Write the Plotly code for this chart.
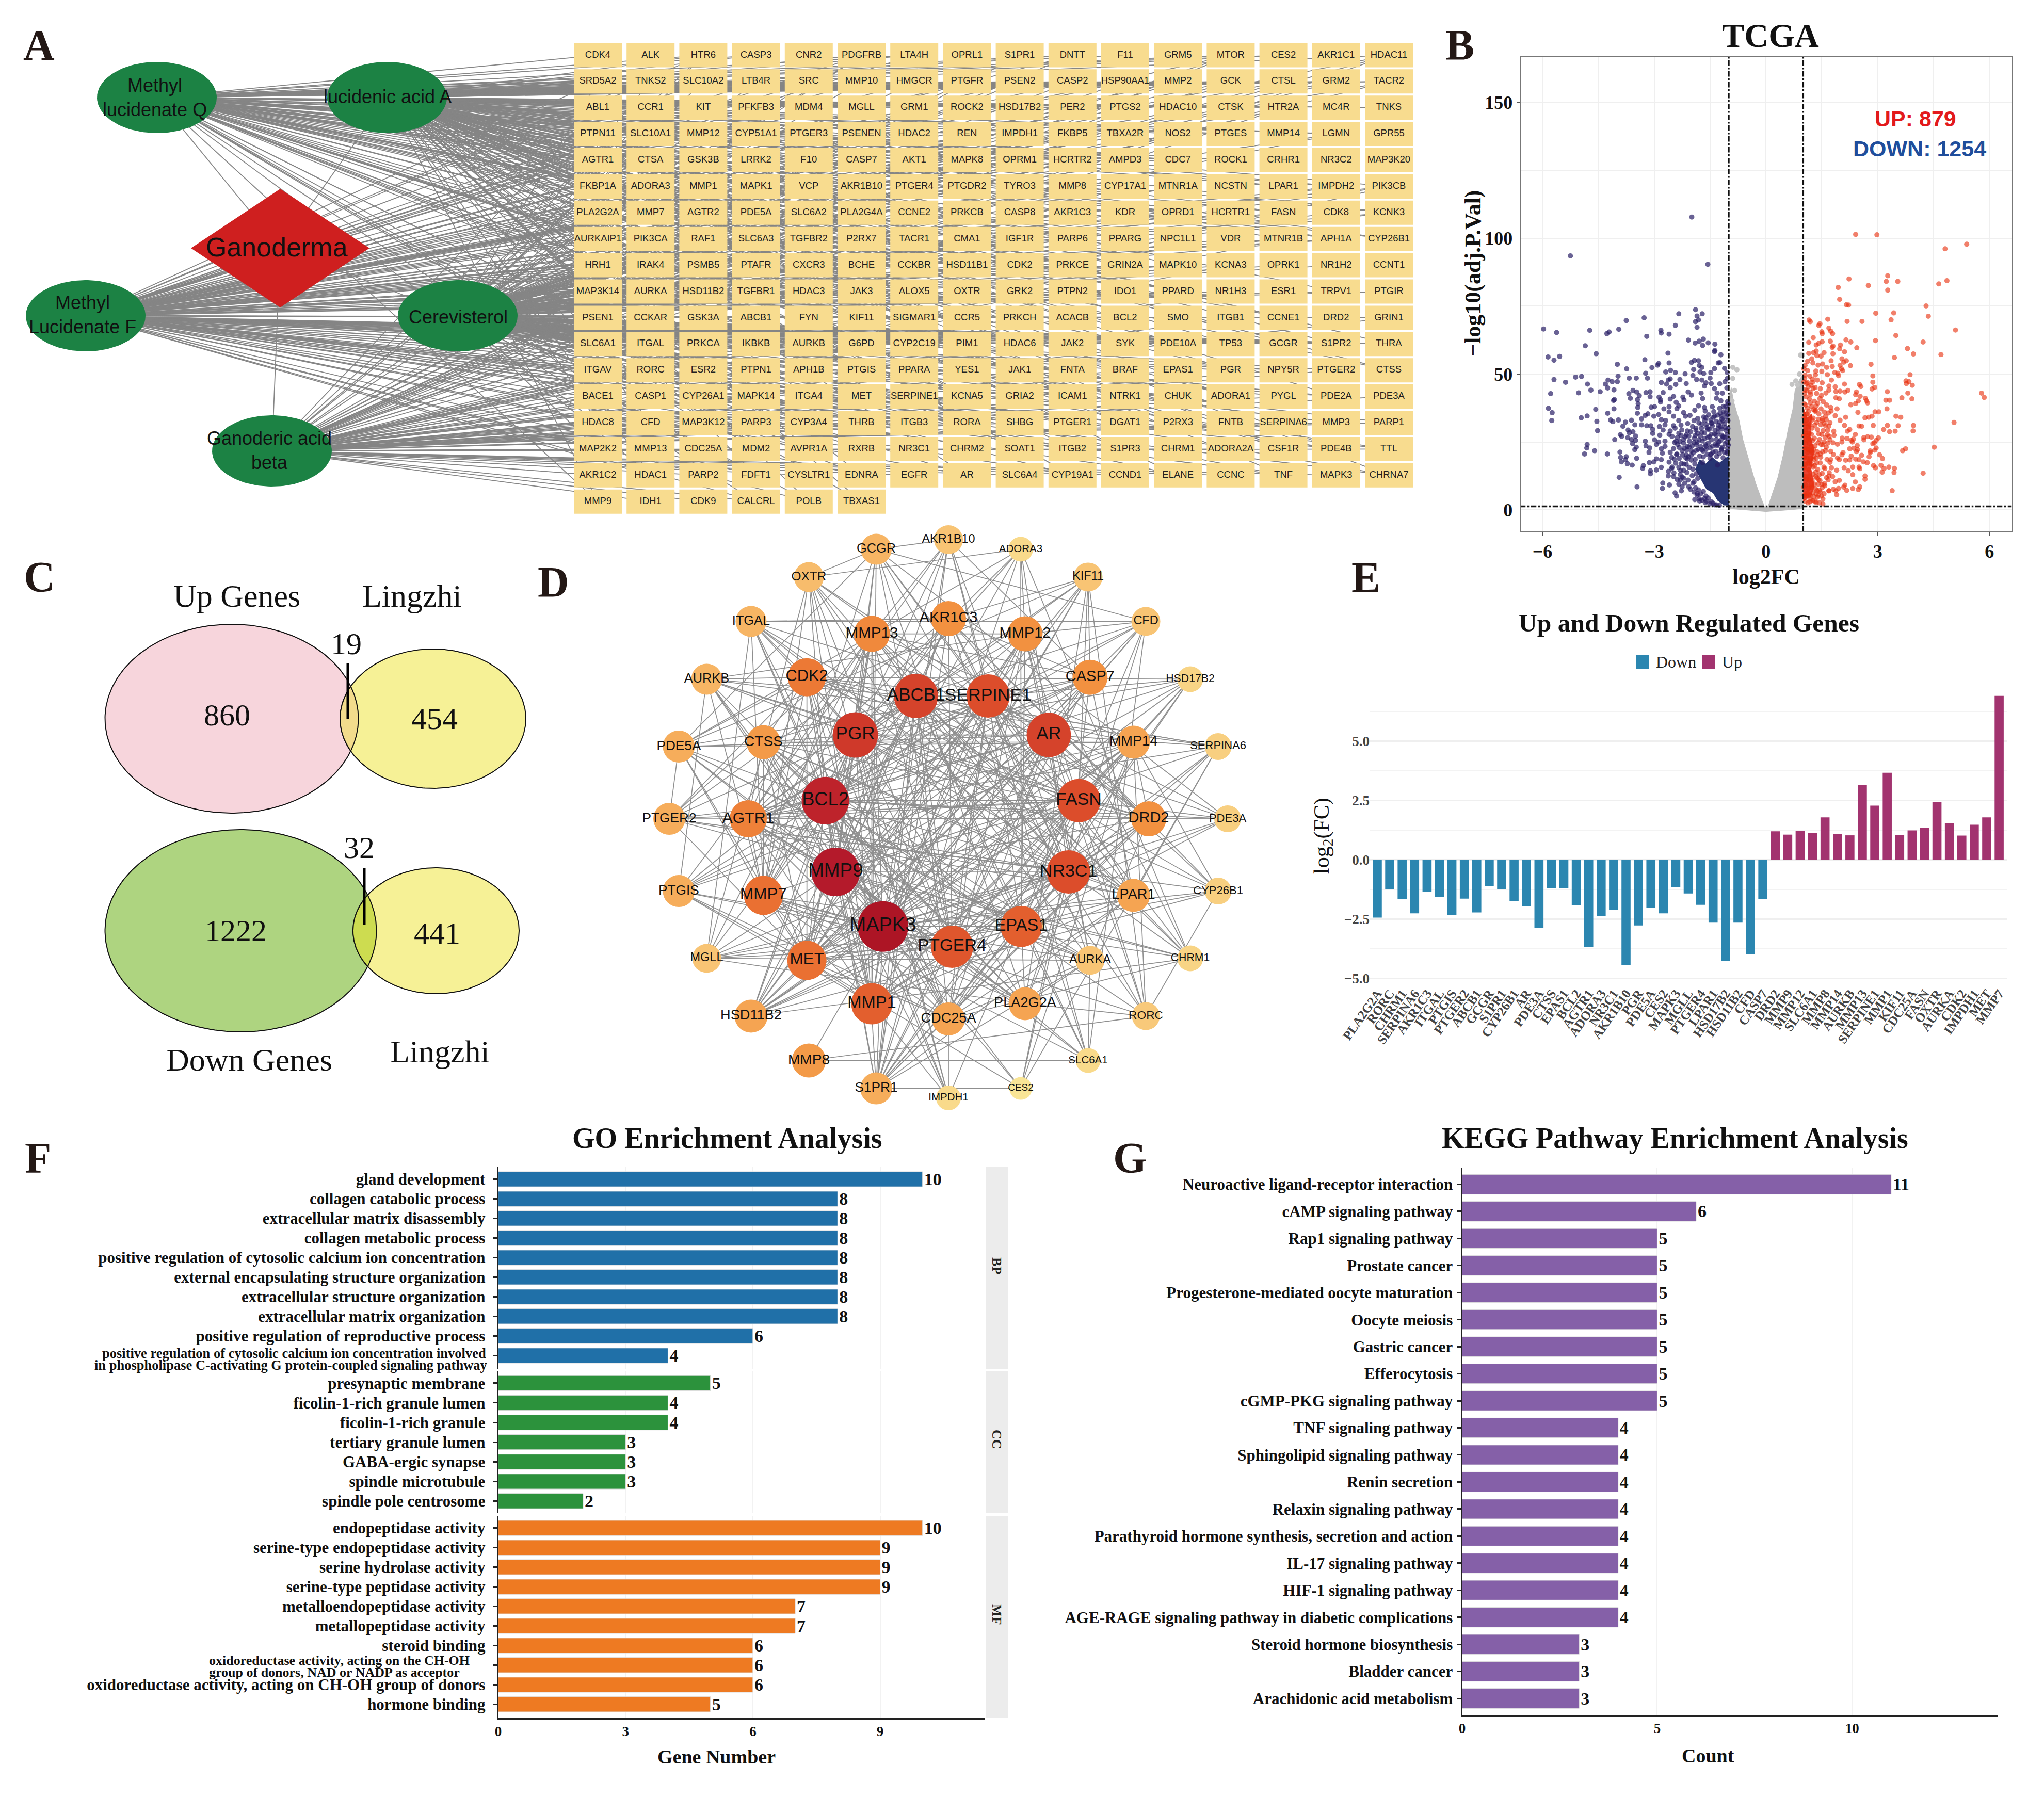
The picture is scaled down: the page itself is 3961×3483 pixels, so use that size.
import numpy as np
import plotly.graph_objects as go

W, H = 3961, 3483
SERIF = "Liberation Serif"
SANS = "Liberation Sans"

# ---------- Panel A: compound-target network ----------
gene_rows = [
 "CDK4 ALK HTR6 CASP3 CNR2 PDGFRB LTA4H OPRL1 S1PR1 DNTT F11 GRM5 MTOR CES2 AKR1C1 HDAC11",
 "SRD5A2 TNKS2 SLC10A2 LTB4R SRC MMP10 HMGCR PTGFR PSEN2 CASP2 HSP90AA1 MMP2 GCK CTSL GRM2 TACR2",
 "ABL1 CCR1 KIT PFKFB3 MDM4 MGLL GRM1 ROCK2 HSD17B2 PER2 PTGS2 HDAC10 CTSK HTR2A MC4R TNKS",
 "PTPN11 SLC10A1 MMP12 CYP51A1 PTGER3 PSENEN HDAC2 REN IMPDH1 FKBP5 TBXA2R NOS2 PTGES MMP14 LGMN GPR55",
 "AGTR1 CTSA GSK3B LRRK2 F10 CASP7 AKT1 MAPK8 OPRM1 HCRTR2 AMPD3 CDC7 ROCK1 CRHR1 NR3C2 MAP3K20",
 "FKBP1A ADORA3 MMP1 MAPK1 VCP AKR1B10 PTGER4 PTGDR2 TYRO3 MMP8 CYP17A1 MTNR1A NCSTN LPAR1 IMPDH2 PIK3CB",
 "PLA2G2A MMP7 AGTR2 PDE5A SLC6A2 PLA2G4A CCNE2 PRKCB CASP8 AKR1C3 KDR OPRD1 HCRTR1 FASN CDK8 KCNK3",
 "AURKAIP1 PIK3CA RAF1 SLC6A3 TGFBR2 P2RX7 TACR1 CMA1 IGF1R PARP6 PPARG NPC1L1 VDR MTNR1B APH1A CYP26B1",
 "HRH1 IRAK4 PSMB5 PTAFR CXCR3 BCHE CCKBR HSD11B1 CDK2 PRKCE GRIN2A MAPK10 KCNA3 OPRK1 NR1H2 CCNT1",
 "MAP3K14 AURKA HSD11B2 TGFBR1 HDAC3 JAK3 ALOX5 OXTR GRK2 PTPN2 IDO1 PPARD NR1H3 ESR1 TRPV1 PTGIR",
 "PSEN1 CCKAR GSK3A ABCB1 FYN KIF11 SIGMAR1 CCR5 PRKCH ACACB BCL2 SMO ITGB1 CCNE1 DRD2 GRIN1",
 "SLC6A1 ITGAL PRKCA IKBKB AURKB G6PD CYP2C19 PIM1 HDAC6 JAK2 SYK PDE10A TP53 GCGR S1PR2 THRA",
 "ITGAV RORC ESR2 PTPN1 APH1B PTGIS PPARA YES1 JAK1 FNTA BRAF EPAS1 PGR NPY5R PTGER2 CTSS",
 "BACE1 CASP1 CYP26A1 MAPK14 ITGA4 MET SERPINE1 KCNA5 GRIA2 ICAM1 NTRK1 CHUK ADORA1 PYGL PDE2A PDE3A",
 "HDAC8 CFD MAP3K12 PARP3 CYP3A4 THRB ITGB3 RORA SHBG PTGER1 DGAT1 P2RX3 FNTB SERPINA6 MMP3 PARP1",
 "MAP2K2 MMP13 CDC25A MDM2 AVPR1A RXRB NR3C1 CHRM2 SOAT1 ITGB2 S1PR3 CHRM1 ADORA2A CSF1R PDE4B TTL",
 "AKR1C2 HDAC1 PARP2 FDFT1 CYSLTR1 EDNRA EGFR AR SLC6A4 CYP19A1 CCND1 ELANE CCNC TNF MAPK3 CHRNA7",
 "MMP9 IDH1 CDK9 CALCRL POLB TBXAS1",
]
compounds = ["Methyl<br>lucidenate Q", "lucidenic acid A", "Methyl<br>Lucidenate F", "Cerevisterol", "Ganoderic acid<br>beta"]
herb = "Ganoderma"

# ---------- Panel B: volcano ----------
down_points = [
(-5.97,66.6),(-5.62,65.3),(-4.73,66.1),(-4.27,64.9),(-4.21,65.5),(-3.95,66.5),(-3.75,69.7),(-3.27,70.7),(-2.34,72.2),(-1.89,73.7),
(-1.71,72.2),(-1.85,71.4),(-1.81,69.9),(-1.89,69.3),(-1.85,67.2),(-2.43,67.9),(-2.82,66.1),(-2.81,65.1),(-2.60,64.7),(-3.20,63.9),
(-4.85,60.4),(-4.56,57.5),(-5.85,56.3),(-5.69,55.1),(-5.54,56.5),(-2.08,62.5),(-1.90,61.4),(-1.79,62.1),(-1.68,62.9),(-1.70,60.5),
(-1.55,61.5),(-1.37,61.0),(-1.37,58.7),(-1.38,58.3),(-1.21,57.1),(-2.63,57.7),(-3.25,55.3),(-3.99,53.6),(-3.74,51.9),(-2.88,53.9),
(-2.91,53.3),(-2.60,54.1),(-3.06,52.4),(-2.0,54.3),(-1.92,55.0),(-1.81,54.9),(-1.79,53.2),(-1.72,52.5),(-1.28,54.1),(-1.24,54.2),
(-1.11,52.1),(-1.38,52.0),(-1.94,51.7),(-2.69,50.8),(-2.56,51.4),(-2.43,50.6),(-2.17,50.1),(-3.23,50.3),(-1.77,50.8),(-1.67,50.2),
(-1.48,50.6),(-1.04,50.6),(-1.96,49.5),(-5.11,48.9),(-4.95,49.1),(-3.97,49.2),(-3.67,48.5),(-3.48,48.5),(-3.18,48.5),(-4.24,47.8),
(-5.69,48.0),(-5.38,47.0),(-4.79,46.3),(-4.31,46.3),(-4.13,47.2),(-3.99,47.2),(-1.86,48.0),(-1.72,47.8),(-1.50,48.5),(-2.31,48.0),
(-2.57,48.2),(-2.62,47.8),(-2.81,46.9),(-2.67,46.3),(-2.42,46.2),(-2.14,46.5),(-1.04,48.4),(-1.10,47.2),(-1.61,46.8),(-1.47,46.5),
(-1.24,46.4),(-4.25,44.9),(-4.70,44.1),(-4.08,44.2),(-4.45,43.5),(-5.78,42.8),(-5.03,43.1),(-3.68,42.8),(-3.57,44.0),(-3.47,43.4),
(-3.40,42.1),(-3.22,43.2),(-3.11,43.5),(-2.57,45.0),(-2.76,43.2),(-2.09,43.4),(-2.0,42.3),(-1.65,45.6),(-1.38,44.6),(-1.74,43.0),
(-1.31,43.0),(-1.17,43.0),(-1.05,44.9),(-3.11,41.7),(-3.64,41.1),(-4.07,40.6),(-4.09,40.3),(-3.45,40.6),(-2.87,41.5),(-2.83,40.5),
(-2.57,40.8),(-2.48,41.8),(-2.23,41.5),(-2.20,40.5),(-1.70,41.0),(-1.33,41.1),(-1.21,40.2),(-1.03,39.9),(-3.43,39.1),(-2.83,39.7),
(-2.41,39.6),(-2.34,38.3),(-5.84,37.4),(-4.57,37.0),(-4.08,37.2),(-3.44,37.7),(-3.08,37.8),(-2.99,38.0),(-2.60,38.0),(-2.74,37.2),
(-2.39,37.3),(-1.81,38.3),(-1.65,37.7),(-1.44,38.0),(-5.74,35.8),(-4.96,33.9),(-4.80,34.6),(-4.25,35.6),(-3.45,35.6),(-3.17,35.4),
(-2.60,36.1),(-2.21,35.8),(-1.91,36.7),(-1.63,36.4),(-1.14,36.1),(-5.75,32.9),(-4.54,32.6),(-4.17,33.1),(-4.11,32.5),(-3.96,33.1),
(-3.61,33.0),(-3.77,32.3),(-3.34,33.5),(-3.24,34.8),(-3.01,34.5),(-2.88,35.1),(-2.81,33.2),(-2.69,32.9),(-2.48,34.5),(-2.34,32.9),
(-2.16,34.5),(-2.04,34.8),(-1.93,32.9),(-1.61,33.9),(-1.38,34.5),(-1.19,34.5),(-3.84,30.8),(-3.52,31.3),(-3.34,31.3),(-3.20,31.0),
(-3.09,31.0),(-2.86,30.7),(-2.71,31.3),(-2.48,31.0),(-2.28,31.2),(-1.72,31.6),(-1.47,32.0),(-1.24,32.3),(-4.52,29.2),(-3.70,29.4),
(-3.67,28.4),(-3.57,28.8),(-3.04,29.7),(-2.76,29.4),(-2.57,29.1),(-2.44,30.1),(-2.11,29.1),(-1.88,30.1),(-1.56,29.7),(-1.28,30.1),
(-3.91,27.7),(-3.87,27.1),(-3.50,27.2),(-3.04,28.2),(-2.85,27.5),(-2.60,27.8),(-2.34,28.2),(-2.07,27.2),(-1.84,28.2),(-1.47,27.8),
(-1.19,27.5),(-4.06,25.9),(-3.71,26.6),(-3.61,25.9),(-3.50,25.6),(-3.24,25.3),(-2.99,25.8),(-2.88,25.0),(-2.71,25.3),(-2.41,25.3),
(-2.21,25.9),(-1.65,26.3),(-1.33,25.9),(-1.10,26.6),(-4.80,24.1),(-4.81,22.8),(-3.58,24.4),(-3.48,23.1),(-3.22,23.6),(-3.12,22.8),
(-2.94,24.1),(-2.71,23.4),(-2.37,24.1),(-2.11,23.4),(-1.86,24.1),(-1.61,23.4),(-1.31,23.7),(-4.60,21.8),(-3.52,22.2),(-2.81,22.5),
(-2.25,21.8),(-2.0,21.8),(-1.72,22.2),(-1.19,22.5),(-4.87,20.6),(-4.26,20.6),(-3.92,21.3),(-3.14,21.2),(-2.78,20.9),(-2.57,21.2),
(-2.39,20.6),(-2.14,20.3),(-1.47,20.6),(-1.05,20.9),(-3.90,19.3),(-3.47,19.0),(-3.75,19.6),(-3.77,18.5),(-2.94,18.8),(-2.81,18.5),
(-2.53,19.3),(-2.46,18.7),(-2.11,18.7),(-3.88,17.7),(-3.13,17.4),(-3.01,17.7),(-2.27,17.1),(-2.14,16.8),(-3.72,17.0),(-3.59,16.5),
(-3.29,16.3),(-3.31,15.3),(-2.81,15.7),(-2.94,14.7),(-2.53,15.2),(-2.34,15.7),(-3.10,14.4),(-3.10,13.3),(-2.62,14.2),(-2.21,14.6),
(-2.62,12.5),(-2.48,12.3),(-2.30,13.0),(-3.94,12.0),(-2.30,11.1),(-2.21,11.7),(-2.77,9.9),(-2.59,9.2),(-2.34,9.5),(-2.25,8.5),
(-3.46,8.5),(-2.78,7.9),(-2.07,8.5),(-1.96,9.8),(-2.27,7.0),(-2.44,6.3),(-2.40,5.1),(-1.93,6.6),(-1.84,6.0),(-1.91,3.8),
(-1.79,4.1),(-1.61,5.1),(-1.63,2.8),(-1.51,2.2),(-1.38,1.9),(-1.99,107.8),(-5.25,93.5),(-1.56,90.4),
# dense part of the cloud, positions estimated
(-2.52,27.1),(-2.45,24.8),(-2.38,26.6),(-2.33,23.0),(-2.28,27.4),(-2.24,20.2),(-2.21,24.6),(-2.17,26.9),(-2.12,22.1),(-2.08,19.6),
(-2.05,25.3),(-2.02,28.8),(-1.98,23.6),(-1.95,21.0),(-1.92,26.4),(-1.9,18.6),(-1.88,29.3),(-1.85,24.9),(-1.82,22.3),(-1.8,32.0),
(-1.78,19.8),(-1.76,27.2),(-1.73,30.1),(-1.71,25.4),(-1.69,21.7),(-1.67,34.2),(-1.65,28.3),(-1.62,24.0),(-1.6,31.4),(-1.58,20.5),
(-1.56,26.7),(-1.54,35.0),(-1.52,29.7),(-1.5,22.9),(-1.48,33.1),(-1.46,25.8),(-1.44,30.9),(-1.42,21.3),(-1.4,36.2),(-1.38,27.9),
(-1.36,24.2),(-1.34,32.6),(-1.32,19.7),(-1.3,34.9),(-1.28,28.7),(-1.26,25.1),(-1.24,37.4),(-1.22,30.6),(-1.2,22.0),(-1.18,33.5),
(-1.16,27.0),(-1.14,38.1),(-1.12,31.7),(-1.1,24.4),(-1.08,35.6),(-1.06,29.2),(-1.04,21.5),(-1.03,37.0),(-1.02,32.9),(-1.01,26.1),
(-2.6,17.6),(-2.52,15.8),(-2.47,13.6),(-2.42,17.2),(-2.38,11.2),(-2.33,18.9),(-2.29,14.5),(-2.25,12.1),(-2.2,16.9),(-2.18,9.8),
(-2.15,19.1),(-2.12,13.8),(-2.09,11.0),(-2.06,15.7),(-2.03,7.6),(-2.0,18.3),(-1.98,12.6),(-1.96,15.0),(-1.93,10.4),(-1.91,16.9),
(-1.89,8.1),(-1.87,13.3),(-1.85,5.4),(-1.83,11.6),(-1.81,7.4),(-1.78,3.3),(-1.75,5.9),(-1.72,3.6),(-1.68,6.8),(-1.65,4.2),
(-1.6,3.3),(-1.55,4.4),(-1.47,3.0),(-1.42,2.5),(-1.33,1.9),(-1.25,1.7),(-1.5,19.0),(-1.3,16.5),(-1.15,19.2),(-1.7,17.4),
(-2.48,22.6),(-2.4,20.4),(-2.31,25.2),(-2.26,29.4),(-2.19,22.7),(-2.14,27.6),(-2.1,31.8),(-2.06,23.2),(-2.01,20.1),(-1.97,30.7),
(-1.93,24.8),(-1.9,27.4),(-1.87,21.9),(-1.83,33.7),(-1.79,25.8),(-1.75,23.3),(-1.72,28.6),(-1.68,19.5),(-1.64,32.9),(-1.61,22.3),
(-1.58,30.3),(-1.55,24.6),(-1.52,27.1),(-1.49,20.3),(-1.45,31.9),(-1.43,23.5),(-1.41,34.1),(-1.37,29.3),(-1.35,21.6),(-1.33,27.5),
(-1.29,24.1),(-1.27,31.2),(-1.25,20.7),(-1.23,35.6),(-1.21,25.6),(-1.18,29.8),(-1.17,23.1),(-1.15,32.8),(-1.13,26.8),(-1.11,21.1),
(-1.09,30.4),(-1.07,34.2),(-1.05,24.9),(-1.04,27.8),(-1.03,22.7),(-1.02,35.1),(-1.02,30.0),(-1.01,23.9),(-1.01,39.0),(-1.08,38.2),
]
up_points = [
(5.39,97.8),(4.81,96.1),(2.23,85.0),(1.94,81.9),(2.75,82.6),(3.27,86.2),(3.23,84.1),(3.54,84.1),(3.27,80.9),(4.64,83.2),
(4.86,84.4),(1.98,77.5),(2.16,75.5),(2.22,75.4),(4.30,75.1),(2.95,72.4),(3.43,72.5),(4.36,71.3),(3.36,70.0),(2.18,69.4),
(2.58,69.4),(1.66,70.2),(1.16,69.9),(1.19,69.3),(1.45,68.5),(1.42,67.9),(1.69,66.9),(1.74,65.8),(1.79,64.9),(1.50,65.6),
(1.51,64.9),(5.09,66.2),(3.49,64.2),(1.27,63.4),(1.15,61.7),(1.51,61.9),(1.42,61.3),(1.35,60.7),(1.73,62.1),(2.15,62.6),
(2.28,61.8),(2.94,62.3),(4.22,61.8),(2.00,60.7),(1.98,59.3),(1.80,60.3),(1.78,59.8),(2.44,59.7),(3.80,59.4),(2.11,58.2),
(1.35,58.5),(1.56,57.9),(1.15,57.6),(1.28,57.9),(1.80,57.5),(3.96,57.4),(4.70,57.2),(3.45,56.1),(1.37,56.8),(1.48,56.6),
(1.23,55.6),(1.12,54.7),(2.04,55.6),(1.75,54.9),(2.16,54.9),(2.09,54.4),(1.26,54.1),(2.82,53.6),(2.27,53.1),(1.52,53.7),
(1.40,53.3),(1.99,53.2),(1.63,52.5),(1.78,52.8),(1.05,53.2),(2.03,51.9),(1.12,51.3),(1.34,51.1),(1.50,51.0),(2.06,51.3),
(1.85,50.6),(1.93,50.3),(1.65,49.8),(1.33,49.7),(3.87,49.8),(2.87,49.3),(1.95,49.4),(1.04,48.4),(1.25,48.1),(1.76,47.8),
(2.87,47.0),(3.76,47.5),(3.84,47.2),(3.77,46.5),(3.93,45.9),(1.51,46.8),(2.11,46.3),(2.51,46.2),(2.55,45.4),(1.09,46.5),
(1.21,45.9),(1.69,45.6),(1.86,45.3),(2.92,45.1),(2.85,44.5),(1.46,44.6),(1.69,44.1),(1.88,43.6),(1.99,43.7),(2.20,44.0),
(2.12,43.4),(2.43,43.4),(3.26,43.5),(3.81,43.0),(5.79,43.0),(5.86,41.4),(2.41,42.4),(2.53,41.8),(1.61,43.0),(1.49,42.1),
(1.19,43.4),(1.88,41.3),(1.97,40.9),(2.67,41.1),(3.65,41.3),(3.92,40.9),(2.70,40.2),(2.73,39.4),(3.22,40.4),(3.32,40.4),
(2.48,40.1),(2.41,39.2),(2.28,38.7),(1.74,37.7),(1.91,37.2),(3.25,37.2),(1.75,36.4),(2.47,35.9),(2.93,36.1),(3.03,36.1),
(1.86,34.7),(2.14,34.1),(1.60,34.5),(3.49,34.5),(3.62,34.1),(2.85,34.5),(2.76,34.1),(2.66,33.9),(1.99,33.0),(1.51,32.9),
(1.62,33.2),(2.11,31.1),(2.50,30.9),(2.57,30.8),(2.88,31.1),(3.26,31.1),(3.55,31.0),(3.96,31.1),(5.05,32.2),(1.69,30.9),
(2.25,29.6),(2.19,29.0),(3.16,29.6),(3.32,28.8),(3.47,29.0),(3.95,29.1),(1.82,29.0),(1.83,27.5),(1.65,27.7),(2.40,27.8),
(2.73,27.0),(2.83,26.8),(2.63,26.6),(2.63,25.8),(3.02,26.5),(2.96,25.6),(2.05,26.4),(2.18,26.3),(2.29,25.6),(2.35,26.1),
(1.72,25.9),(1.56,25.0),(1.80,24.7),(1.92,24.2),(2.04,25.0),(2.32,25.0),(2.91,24.7),(2.87,24.4),(2.45,23.7),(4.52,23.1),
(3.75,22.5),(3.67,21.8),(2.25,22.5),(2.36,22.7),(2.46,22.2),(1.62,23.1),(2.96,22.8),(2.92,22.0),(2.80,21.7),(2.43,21.5),
(1.74,21.6),(2.07,21.1),(2.04,20.3),(3.05,20.3),(2.80,21.1),(1.46,20.6),(1.81,20.4),(2.29,19.8),(2.57,20.1),(2.77,19.6),
(3.13,18.9),(1.92,19.1),(1.97,18.5),(2.14,18.3),(2.25,18.4),(2.41,18.7),(2.50,18.5),(1.74,18.5),(2.62,17.7),(2.72,17.4),
(1.72,17.5),(2.89,16.3),(2.94,15.5),(3.09,16.4),(3.17,15.2),(3.12,13.9),(3.30,15.8),(3.45,15.3),(3.44,13.8),(4.22,13.5),
(2.10,15.5),(2.33,15.8),(2.50,15.8),(2.52,15.2),(2.21,14.4),(1.90,14.6),(1.76,15.5),(1.56,15.8),(2.33,13.0),(2.66,12.5),
(2.66,11.3),(1.69,12.5),(1.79,12.3),(1.97,10.9),(2.40,10.3),(1.67,11.1),(1.86,10.4),(2.52,8.5),(2.12,9.1),(2.09,8.4),
(2.48,7.5),(2.33,7.9),(2.17,7.2),(3.39,7.1),(1.58,8.9),(1.51,8.2),(1.95,7.9),(1.81,7.6),(1.69,7.0),(1.88,7.0),
(1.90,5.6),(1.56,6.0),(1.49,5.1),(1.53,4.1),(1.53,2.2),(1.26,3.5),(1.35,6.0),(2.41,101.4),(2.98,101.3),
# dense part of the cloud, positions estimated
(1.02,47.1),(1.05,44.2),(1.08,41.6),(1.03,39.0),(1.11,37.5),(1.14,45.3),(1.17,40.8),(1.06,35.2),(1.2,42.5),(1.23,38.1),
(1.09,33.0),(1.27,44.7),(1.3,40.0),(1.13,30.6),(1.33,36.7),(1.36,42.9),(1.16,28.2),(1.39,39.3),(1.42,35.4),(1.19,25.9),
(1.45,41.0),(1.48,37.2),(1.22,23.4),(1.51,33.6),(1.54,39.8),(1.25,21.0),(1.57,36.0),(1.6,31.0),(1.28,18.7),(1.63,38.6),
(1.31,16.3),(1.66,29.4),(1.34,14.0),(1.68,35.7),(1.37,11.8),(1.7,27.1),(1.4,9.5),(1.72,32.1),(1.43,7.2),(1.05,31.7),
(1.12,27.4),(1.18,34.5),(1.24,30.1),(1.3,26.4),(1.36,32.2),(1.42,28.0),(1.48,24.1),(1.54,29.2),(1.6,21.8),(1.66,24.6),
(1.04,22.8),(1.1,19.2),(1.16,24.3),(1.22,16.9),(1.28,22.4),(1.34,19.1),(1.4,24.7),(1.46,17.3),(1.52,21.4),(1.58,15.2),
(1.64,18.6),(1.7,13.7),(1.03,15.6),(1.09,11.3),(1.15,14.7),(1.21,9.2),(1.27,13.1),(1.33,7.8),(1.39,14.9),(1.45,10.8),
(1.51,13.4),(1.57,9.6),(1.63,11.9),(1.69,7.1),(1.02,8.4),(1.08,5.2),(1.14,7.9),(1.2,3.9),(1.26,6.3),(1.32,3.1),
(1.38,4.7),(1.44,2.6),(1.02,27.3),(1.07,24.6),(1.12,21.2),(1.17,18.0),(1.22,27.9),(1.27,33.8),(1.32,36.3),(1.37,21.5),
(1.05,49.6),(1.11,46.9),(1.18,49.2),(1.25,47.0),(1.32,45.1),(1.38,47.8),(1.02,52.0),
(1.04,42.9),(1.07,38.6),(1.1,43.9),(1.15,36.3),(1.19,39.4),(1.24,33.1),(1.28,36.9),(1.31,31.2),(1.35,38.2),(1.38,29.6),
(1.41,33.4),(1.44,25.9),(1.47,31.4),(1.5,27.8),(1.53,24.0),(1.56,31.9),(1.59,26.7),(1.03,33.9),(1.07,29.5),(1.1,35.4),
(1.14,26.2),(1.18,31.4),(1.21,21.8),(1.25,25.5),(1.29,19.8),(1.32,23.6),(1.36,17.4),(1.39,20.3),(1.43,13.0),(1.47,19.4),
(1.03,19.4),(1.06,16.8),(1.1,22.6),(1.13,17.2),(1.17,12.6),(1.2,18.9),(1.24,11.0),(1.27,15.9),(1.3,9.5),(1.34,12.4),
(1.37,7.1),(1.41,11.2),(1.46,6.6),(1.5,9.4),(1.04,12.4),(1.07,9.3),(1.11,6.2),(1.16,10.9),(1.19,5.3),(1.24,8.3),
(1.29,4.9),(1.35,2.8),(1.41,5.4),(1.03,5.4),(1.06,3.1),(1.13,2.6),(1.19,3.0),(1.05,28.2),(1.09,25.7),(1.14,22.1),
]
ns_points = [(-0.89,52.5),(-0.78,51.6),(-0.89,48.4),(-0.84,44),(-0.91,40.2),(0.93,57),(0.98,57),(0.70,46.2),(0.85,46),(0.80,47.5),(0.90,50)]
# Solid clouds too dense to resolve into single dots: outlines.
ns_cloud = [(-1,0.5),(-1,42),(-0.93,45),(-0.87,40),(-0.72,33),(-0.62,26),(-0.45,18),(-0.28,10),(-0.12,4),(-0.03,1),(0.05,1),(0.15,5),(0.32,12),
            (0.46,20),(0.6,30),(0.72,37),(0.78,44),(0.9,48),(1,50),(1,0.5),(0.6,0),(0,-0.6),(-0.6,0),(-1,0.5)]
down_core = [(-1.9,15),(-1.78,18.6),(-1.62,17),(-1.45,19.5),(-1.25,17.4),(-1.0,20),(-1.0,1.6),(-1.12,1.7),(-1.3,3.4),(-1.42,6.2),(-1.6,7.6),(-1.72,10.5),(-1.9,15)]
up_core = [(1.0,38),(1.12,34),(1.24,35.5),(1.2,27),(1.3,22),(1.22,15),(1.3,9),(1.22,5),(1.1,4),(1.0,3),(1.0,38)]

# ---------- Panel C: Venn counts ----------
venn_labels = ["Up Genes", "Lingzhi", "Down Genes", "Lingzhi"]
venn_counts = [860, 19, 454, 1222, 32, 441]

# ---------- Panel D: hub network, rings ordered clockwise ----------
outer_ring = ["AKR1B10","ADORA3","KIF11","CFD","HSD17B2","SERPINA6","PDE3A","CYP26B1","CHRM1","RORC","SLC6A1","CES2","IMPDH1",
              "S1PR1","MMP8","HSD11B2","MGLL","PTGIS","PTGER2","PDE5A","AURKB","ITGAL","OXTR","GCGR"]
outer_degree = [28,24,28,28,25,26,26,26,25,27,24,22,24,31,33,32,28,31,31,31,30,30,29,30]
middle_ring = ["AKR1C3","MMP12","CASP7","MMP14","DRD2","LPAR1","AURKA","PLA2G2A","CDC25A","MMP1","MET","MMP7","AGTR1","CTSS","CDK2","MMP13"]
middle_degree = [34,34,34,32,34,32,28,32,32,40,38,38,36,33,37,35]
inner_ring = ["PTGER4","MAPK3","MMP9","BCL2","PGR","ABCB1","SERPINE1","AR","FASN","NR3C1","EPAS1"]
inner_degree = [41,49,47,46,44,43,42,43,42,42,40]

# ---------- Panel E ----------
down_genes = ["PLA2G2A","RORC","CHRM1","SERPINA6","AKR1C3","ITGAL","PTGIS","PTGER2","ABCB1","GCGR","S1PR1","CYP26B1","AR","PDE3A","CTSS","EPAS1",
              "BCL2","AGTR1","ADORA3","NR3C1","AKR1B10","PGR","PDE5A","CES2","MAPK3","MGLL","PTGER4","LPAR1","HSD17B2","HSD11B2","CFD","CASP7"]
down_fc = [-2.44,-1.24,-1.66,-2.26,-1.35,-1.58,-2.33,-1.64,-2.22,-1.11,-1.23,-1.75,-1.95,-2.88,-1.2,-1.2,
           -1.91,-3.68,-2.37,-2.11,-4.43,-2.77,-2.02,-2.26,-1.16,-1.42,-1.9,-2.65,-4.26,-2.65,-3.98,-1.65]
up_genes = ["DRD2","MMP9","MMP12","SLC6A1","MMP8","MMP14","AURKB","MMP13","SERPINE1","MMP1","KIF11","CDC25A","FASN","OXTR","AURKA","CDK2","IMPDH1","MET","MMP7"]
up_fc = [1.2,1.06,1.21,1.13,1.79,1.08,1.03,3.14,2.28,3.67,1.04,1.24,1.35,2.43,1.54,1.02,1.48,1.79,6.91]

# ---------- Panel F ----------
bp_terms = ["gland development","collagen catabolic process","extracellular matrix disassembly","collagen metabolic process",
            "positive regulation of cytosolic calcium ion concentration","external encapsulating structure organization",
            "extracellular structure organization","extracellular matrix organization","positive regulation of reproductive process"]
bp_counts = [10,8,8,8,8,8,8,8,6,4]
cc_terms = ["presynaptic membrane","ficolin-1-rich granule lumen","ficolin-1-rich granule","tertiary granule lumen","GABA-ergic synapse","spindle microtubule","spindle pole centrosome"]
cc_counts = [5,4,4,3,3,3,2]
mf_terms = ["endopeptidase activity","serine-type endopeptidase activity","serine hydrolase activity","serine-type peptidase activity",
            "metalloendopeptidase activity","metallopeptidase activity","steroid binding",
            "oxidoreductase activity, acting on CH-OH group of donors","hormone binding"]
mf_counts = [10,9,9,9,7,7,6,6,6,5]

# ---------- Panel G ----------
kegg_terms = ["Neuroactive ligand-receptor interaction","cAMP signaling pathway","Rap1 signaling pathway","Prostate cancer",
              "Progesterone-mediated oocyte maturation","Oocyte meiosis","Gastric cancer","Efferocytosis","cGMP-PKG signaling pathway",
              "TNF signaling pathway","Sphingolipid signaling pathway","Renin secretion","Relaxin signaling pathway",
              "Parathyroid hormone synthesis, secretion and action","IL-17 signaling pathway","HIF-1 signaling pathway",
              "AGE-RAGE signaling pathway in diabetic complications","Steroid hormone biosynthesis","Bladder cancer","Arachidonic acid metabolism"]
kegg_counts = [11,6,5,5,5,5,5,5,5,4,4,4,4,4,4,4,4,3,3,3]


def dx(a, b): return [a / W, b / W]
def dy(top, bot): return [1 - bot / H, 1 - top / H]
def ellipse(cx, cy, rx, ry, n=120):
    t = np.linspace(0, 2 * np.pi, n)
    return cx + rx * np.cos(t), cy + ry * np.sin(t)
def split(pts): return [p[0] for p in pts], [p[1] for p in pts]
def segs(pairs):
    xs, ys = [], []
    for (a, b) in pairs:
        xs += [a[0], b[0], None]; ys += [a[1], b[1], None]
    return xs, ys

fig = go.Figure()
def canvas(**kw):
    kw.setdefault("hoverinfo", "skip"); kw.setdefault("showlegend", False)
    fig.add_trace(go.Scatter(xaxis="x", yaxis="y", **kw))
def poly(x, y, fill, line=None, lw=0):
    canvas(x=list(x), y=list(y), mode="lines", fill="toself", fillcolor=fill,
           line=dict(color=line or fill, width=lw))
def note(x, y, text, size, family=SERIF, color="#111", weight="normal", angle=0, anchor="center"):
    fig.add_annotation(x=x, y=y, xref="x", yref="y", text=text, showarrow=False, textangle=angle, xanchor=anchor,
                       yanchor="middle", font=dict(family=family, size=size, color=color, weight=weight))

# ---- A ----
src_xy = [(304,189),(750,189),(166,612),(887,612),(527,874)]
herb_xy = (543,481)
cell_w, cell_h, x0, pitch_x, y0, pitch_y = 93, 47, 1112, 102.2, 106.9, 50.9
cell_xy, cell_txt = [], []
for r, row in enumerate(gene_rows):
    for c, g in enumerate(row.split()):
        cell_xy.append((r, c, x0 + c * pitch_x + cell_w / 2, y0 + r * pitch_y)); cell_txt.append(g)
# The individual compound-target links cannot be traced in the picture; this fixed rule
# only reproduces how densely each compound fans out to each band of rows.
share = [[5 if r < 9 else 3 for r in range(18)], [5 if r < 9 else 3 for r in range(18)], [4] * 18,
         [6 if 5 <= r <= 14 else 3 for r in range(18)], [6 if r >= 12 else 3 for r in range(18)]]
pairs = [(src_xy[s], herb_xy) for s in range(5)]
for r, c, cx, cy in cell_xy:
    for s in range(5):
        if (r * 13 + c * 7 + s * 29 + r * c * 3) % 10 < share[s][r]:
            pairs.append((src_xy[s], (cx, cy)))
ex, ey = segs(pairs)
canvas(x=ex, y=ey, mode="lines", line=dict(color="#858585", width=1.8))
rx_, ry_ = [], []
for r, c, cx, cy in cell_xy:
    rx_ += [cx-cell_w/2, cx+cell_w/2, cx+cell_w/2, cx-cell_w/2, cx-cell_w/2, None]
    ry_ += [cy-cell_h/2, cy-cell_h/2, cy+cell_h/2, cy+cell_h/2, cy-cell_h/2, None]
poly(rx_, ry_, "#f8dc8f")
canvas(x=[p[2] for p in cell_xy], y=[p[3] for p in cell_xy], text=cell_txt, mode="text",
       textposition="middle center", textfont=dict(family=SANS, size=18.5, color="#222"))
for (sx, sy) in src_xy:
    ex2, ey2 = ellipse(sx, sy, 116, 69)
    poly(ex2, ey2, "#1c8244")
poly([370, 543, 716, 543, 370], [481, 366, 481, 596, 481], "#cf1f1f")
txt_off = [(-4, 0), (1, -2), (-6, -2), (1, 2), (-5, -1)]
for name, (sx, sy), (ox, oy) in zip(compounds, src_xy, txt_off):
    note(sx + ox, sy + oy, name, 36, SANS, "#111")
note(536, 479, herb, 52, SANS, "#111")

# ---- B ----
bx = dict(xaxis="x2", yaxis="y2", hoverinfo="skip", showlegend=False)
xs, ys = split(ns_cloud)
fig.add_trace(go.Scatter(x=xs, y=ys, mode="lines", fill="toself", fillcolor="#bdbdbd", line=dict(color="#bdbdbd", width=1), **bx))
xs, ys = split(ns_points)
fig.add_trace(go.Scatter(x=xs, y=ys, mode="markers", marker=dict(size=10, color="#c4c4c4"), **bx))
for pts, col in [(down_core, "rgba(27,42,107,0.95)"), (up_core, "rgba(232,32,10,0.85)")]:
    xs, ys = split(pts)
    fig.add_trace(go.Scatter(x=xs, y=ys, mode="lines", fill="toself", fillcolor=col, line=dict(width=0, color=col), **bx))
xs, ys = split(down_points)
fig.add_trace(go.Scatter(x=xs, y=ys, mode="markers", name="DOWN", marker=dict(size=10, color="#2a1f66", opacity=0.7), **bx))
xs, ys = split(up_points)
fig.add_trace(go.Scatter(x=xs, y=ys, mode="markers", name="UP", marker=dict(size=10, color="#e8300f", opacity=0.62), **bx))
dash = dict(color="#111", width=3.5, dash="dashdot")
fig.add_trace(go.Scatter(x=[-1, -1, None, 1, 1], y=[-8, 167, None, -8, 167], mode="lines", line=dash, **bx))
fig.add_trace(go.Scatter(x=[-6.6, 6.6], y=[1.3, 1.3], mode="lines", line=dash, **bx))
note(3431, 69, "TCGA", 65, SERIF, "#111", "bold")
note(3712, 230, "UP: 879", 43, SANS, "#e31a1c", "bold")
note(3720, 288, "DOWN: 1254", 43, SANS, "#1f4e9c", "bold")
note(2854, 530, "−log10(adj.P.Val)", 44, SERIF, "#111", "bold", angle=-90)

# ---- C ----
def lens(e1, e2):
    def inside(px, py, e): return ((px - e[0]) / e[2]) ** 2 + ((py - e[1]) / e[3]) ** 2 <= 1
    a = ellipse(*e1, 720); b = ellipse(*e2, 720)
    pts = [(x, y) for x, y in zip(*a) if inside(x, y, e2)] + [(x, y) for x, y in zip(*b) if inside(x, y, e1)]
    cx, cy = np.mean(pts, axis=0)
    pts.sort(key=lambda p: np.arctan2(p[1] - cy, p[0] - cx))
    pts.append(pts[0])
    return split(pts)
for big, small, fb, fl in [((449, 1393, 245.5, 183), (839, 1393, 180, 135), "#f7d5dc", "#f2dc8c"),
                           ((466.5, 1804, 263, 196), (845, 1804, 161, 122), "#aed480", "#cddc50")]:
    for e, f in [(big, fb), (small, "#f6f196")]:
        xe, ye = ellipse(*e, 240)
        poly(xe, ye, f, "#111", 2)
    xl, yl = lens(big, small)
    poly(xl, yl, fl, "#111", 2)
canvas(x=[674, 674, None, 706, 706], y=[1285, 1393, None, 1683, 1792], mode="lines", line=dict(color="#000", width=5))
for (x, y), t in zip([(440, 1386), (671, 1248), (842, 1393), (457, 1804), (696, 1643), (847, 1809)], venn_counts):
    note(x, y, str(t), 60)
for (x, y), t in zip([(459, 1155), (798, 1155), (483, 2054), (852, 2038)], venn_labels):
    note(x, y, t, 62)

# ---- D ----
names, degs, nx, ny = [], [], [], []
for ring, deg, R, (cx, cy), start in [(outer_ring, outer_degree, 541, (1838, 1587), 0),
                                      (middle_ring, middle_degree, 388, (1838, 1587), 0),
                                      (inner_ring, inner_degree, 248, (1845, 1587), 180)]:
    for i, (n, d) in enumerate(zip(ring, deg)):
        th = np.radians(start + i * 360 / len(ring))
        names.append(n); degs.append(d)
        nx.append(cx + R * np.sin(th)); ny.append(cy - R * np.cos(th))
# Individual protein-protein links cannot be traced; a fixed rule gives better-connected
# (larger) hubs proportionally more links, matching the picture's density.
pairs = []
for i in range(len(names)):
    for j in range(i + 1, len(names)):
        p = min(1.0, 1.7 * (2 * degs[i] / 100) ** 2 * (2 * degs[j] / 100) ** 2)
        if ((i * 17 + j * 31 + i * j * 5) % 100) / 100 < p:
            pairs.append(((nx[i], ny[i]), (nx[j], ny[j])))
ex, ey = segs(pairs)
canvas(x=ex, y=ey, mode="lines", line=dict(color="#8f8f8f", width=1.7))
canvas(x=nx, y=ny, mode="markers+text", text=names, textposition="middle center",
       marker=dict(size=[2 * d for d in degs], color=degs, cmin=22, cmax=49, opacity=1, line=dict(width=0),
                   colorscale=[[0, "#f9e596"], [0.22, "#f8c475"], [0.33, "#f6ae5c"], [0.44, "#f29240"], [0.59, "#ea7132"],
                               [0.74, "#dc4d2b"], [0.85, "#c92f2a"], [0.92, "#b51a2b"], [1, "#ad1525"]]),
       textfont=dict(family=SANS, color="#111", size=[float(np.interp(d, [22, 28, 34, 42, 49], [19, 23.5, 29, 34, 38])) for d in degs]))

# ---- E ----
e_x = list(range(len(down_genes) + len(up_genes)))
fig.add_trace(go.Bar(x=e_x[:len(down_genes)], y=down_fc, name="Down", marker=dict(color="#2b86b0", line=dict(width=0)), width=0.73,
                     xaxis="x3", yaxis="y3", hoverinfo="skip", showlegend=False))
fig.add_trace(go.Bar(x=e_x[len(down_genes):], y=up_fc, name="Up", marker=dict(color="#a2336f", line=dict(width=0)), width=0.73,
                     xaxis="x3", yaxis="y3", hoverinfo="skip", showlegend=False))
note(3273, 1207, "Up and Down Regulated Genes", 49.5, SERIF, "#111", "bold")
canvas(x=[3183, 3311], y=[1283, 1283], mode="markers", marker=dict(symbol="square", size=26, color=["#2b86b0", "#a2336f"], opacity=1))
note(3207, 1283, "Down", 32, anchor="left", color="#222")
note(3335, 1283, "Up", 32, anchor="left", color="#222")

# ---- F / G bars ----
def hbar(vals, color, xa, ya, h):
    fig.add_trace(go.Bar(y=list(range(len(vals))), x=vals, orientation="h", width=h, marker=dict(color=color, line=dict(width=1, color="#ddd")),
                         text=[str(v) for v in vals], textposition="outside", cliponaxis=False, constraintext="none",
                         textangle=0, outsidetextfont=dict(family=SERIF, size=34, color="#111", weight="bold"),
                         xaxis=xa, yaxis=ya, hoverinfo="skip", showlegend=False))
hbar(bp_counts, "#2070a8", "x4", "y4", 0.77)
hbar(cc_counts, "#2c923c", "x5", "y5", 0.77)
hbar(mf_counts, "#ee7a22", "x6", "y6", 0.77)
hbar(kegg_counts, "#8560a8", "x7", "y7", 0.73)
note(1409, 2206, "GO Enrichment Analysis", 56, SERIF, "#111", "bold")
note(3246, 2206, "KEGG Pathway Enrichment Analysis", 56, SERIF, "#111", "bold")
note(1388, 3405, "Gene Number", 38, SERIF, "#111", "bold")
note(3310, 3403, "Count", 38, SERIF, "#111", "bold")
note(944, 2623, "positive regulation of cytosolic calcium ion concentration involved", 26.5, weight="bold", anchor="right")
note(946, 2646, "in phospholipase C-activating G protein-coupled signaling pathway", 26.5, weight="bold", anchor="right")
note(403, 3218, "oxidoreductase activity, acting on the CH-OH", 26, weight="bold", anchor="left")
note(403, 3241, "group of donors, NAD or NADP as acceptor", 26, weight="bold", anchor="left")
for t, top, bot in [("BP", 2262, 2654), ("CC", 2658, 2932), ("MF", 2938, 3330)]:
    fig.add_shape(type="rect", x0=1911, x1=1953, y0=top, y1=bot, xref="x", yref="y", fillcolor="#ececec", line=dict(width=0), layer="below")
    note(1932, (top + bot) / 2 - 5, t, 26, weight="bold", angle=90, color="#222")

# ---- panel letters ----
for t, x, y in [("A", 75, 87), ("B", 2829, 87), ("C", 76, 1118), ("D", 1072, 1128), ("E", 2647, 1119), ("F", 73, 2244), ("G", 2189, 2244)]:
    note(x, y, t, 84, SERIF, "#231815", "bold")

# ---- axes ----
def tf(size, color="#111"): return dict(family=SERIF, size=size, color=color, weight="bold")
GRID = "#efefef"
layout_axes = dict(
    xaxis=dict(domain=[0, 1], range=[0, W], visible=False, fixedrange=True),
    yaxis=dict(domain=[0, 1], range=[H, 0], visible=False, fixedrange=True),
    xaxis2=dict(domain=dx(2946.5, 3898.5), range=[-6.59, 6.6], anchor="y2", tickvals=[-6, -3, 0, 3, 6], tickfont=tf(36),
                minor=dict(dtick=1.5, showgrid=True, gridcolor=GRID, gridwidth=2), gridcolor=GRID, gridwidth=2, zeroline=False, showline=True,
                mirror=True, linecolor="#777", linewidth=2, ticks="outside", ticklen=6, tickcolor="#555",
                title=dict(text="log2FC", font=tf(42), standoff=14)),
    yaxis2=dict(domain=dy(110, 1030), range=[-7.9, 166.8], anchor="x2", tickvals=[0, 50, 100, 150], tickfont=tf(36),
                minor=dict(dtick=25, showgrid=True, gridcolor=GRID, gridwidth=2), gridcolor=GRID, gridwidth=2, zeroline=False, showline=True,
                mirror=True, linecolor="#777", linewidth=2, ticks="outside", ticklen=6, tickcolor="#555"),
    xaxis3=dict(domain=dx(2655, 3890), range=[-0.58, 50.66], anchor="y3", tickvals=e_x, ticktext=down_genes + up_genes, tickangle=-55,
                tickfont=tf(25, "#444"), showgrid=False, zeroline=False, showline=False, ticks=""),
    yaxis3=dict(domain=dy(1335, 1905), range=[-5.19, 7.21], anchor="x3", tickvals=[-5, -2.5, 0, 2.5, 5], ticktext=["−5.0", "−2.5", "0.0", "2.5", "5.0"],
                tickfont=tf(27, "#444"), minor=dict(dtick=1.25, showgrid=True, gridcolor="#f3f3f3", gridwidth=2), gridcolor=GRID, gridwidth=3, zeroline=False,
                showline=False, ticks="", title=dict(text="log<sub>2</sub>(FC)", font=dict(family=SERIF, size=42, color="#111"), standoff=16)),
)
xF = dict(range=[0, 11.48], tickvals=[0, 3, 6, 9], gridcolor="#f2f2f2", gridwidth=1.5, zeroline=False, ticks="")
yF = dict(tickfont=tf(31), showgrid=False, zeroline=False, showline=True, linecolor="#222", linewidth=3, ticks="outside", ticklen=8,
          tickwidth=3, tickcolor="#222", ticklabelstandoff=8)
minor_tick = dict(ticks="outside", ticklen=8, tickwidth=3, tickcolor="#222", showgrid=False)
layout_axes.update(
    xaxis4=dict(domain=dx(965.6, 1909.4), anchor="y4", showticklabels=False, **xF),
    yaxis4=dict(domain=dy(2262, 2654), range=[9.7, -0.62], anchor="x4", tickvals=list(range(9)), ticktext=bp_terms,
                minor=dict(tickvals=[9], **minor_tick), **yF),
    xaxis5=dict(domain=dx(965.6, 1909.4), anchor="y5", showticklabels=False, **xF),
    yaxis5=dict(domain=dy(2658, 2932), range=[6.59, -0.6], anchor="x5", tickvals=list(range(7)), ticktext=cc_terms, **yF),
    xaxis6=dict(domain=dx(965.6, 1909.4), anchor="y6", showline=True, linecolor="#222", linewidth=3, tickfont=tf(27), **xF),
    yaxis6=dict(domain=dy(2938, 3330), range=[9.7, -0.62], anchor="x6", tickvals=[0,1,2,3,4,5,6,8,9], ticktext=mf_terms,
                minor=dict(tickvals=[7], **minor_tick), **yF),
    xaxis7=dict(domain=dx(2833.5, 3872), range=[0, 13.74], tickvals=[0, 5, 10], anchor="y7", gridcolor="#f2f2f2", gridwidth=1.5, zeroline=False, ticks="",
                showline=True, linecolor="#222", linewidth=3, tickfont=tf(27)),
    yaxis7=dict(domain=dy(2264, 3324), range=[19.61, -0.6], anchor="x7", tickvals=list(range(20)), ticktext=kegg_terms,
                **{**yF, "tickfont": tf(31), "ticklabelstandoff": 1}),
)
fig.update_layout(width=W, height=H, margin=dict(l=0, r=0, t=0, b=0, autoexpand=False), paper_bgcolor="white", plot_bgcolor="rgba(0,0,0,0)",
                  showlegend=False, bargap=0.2, **layout_axes)
fig.write_html("out.html", post_script="document.body.style.margin='0';document.body.style.overflow='hidden';",
               config={"displayModeBar": False})
